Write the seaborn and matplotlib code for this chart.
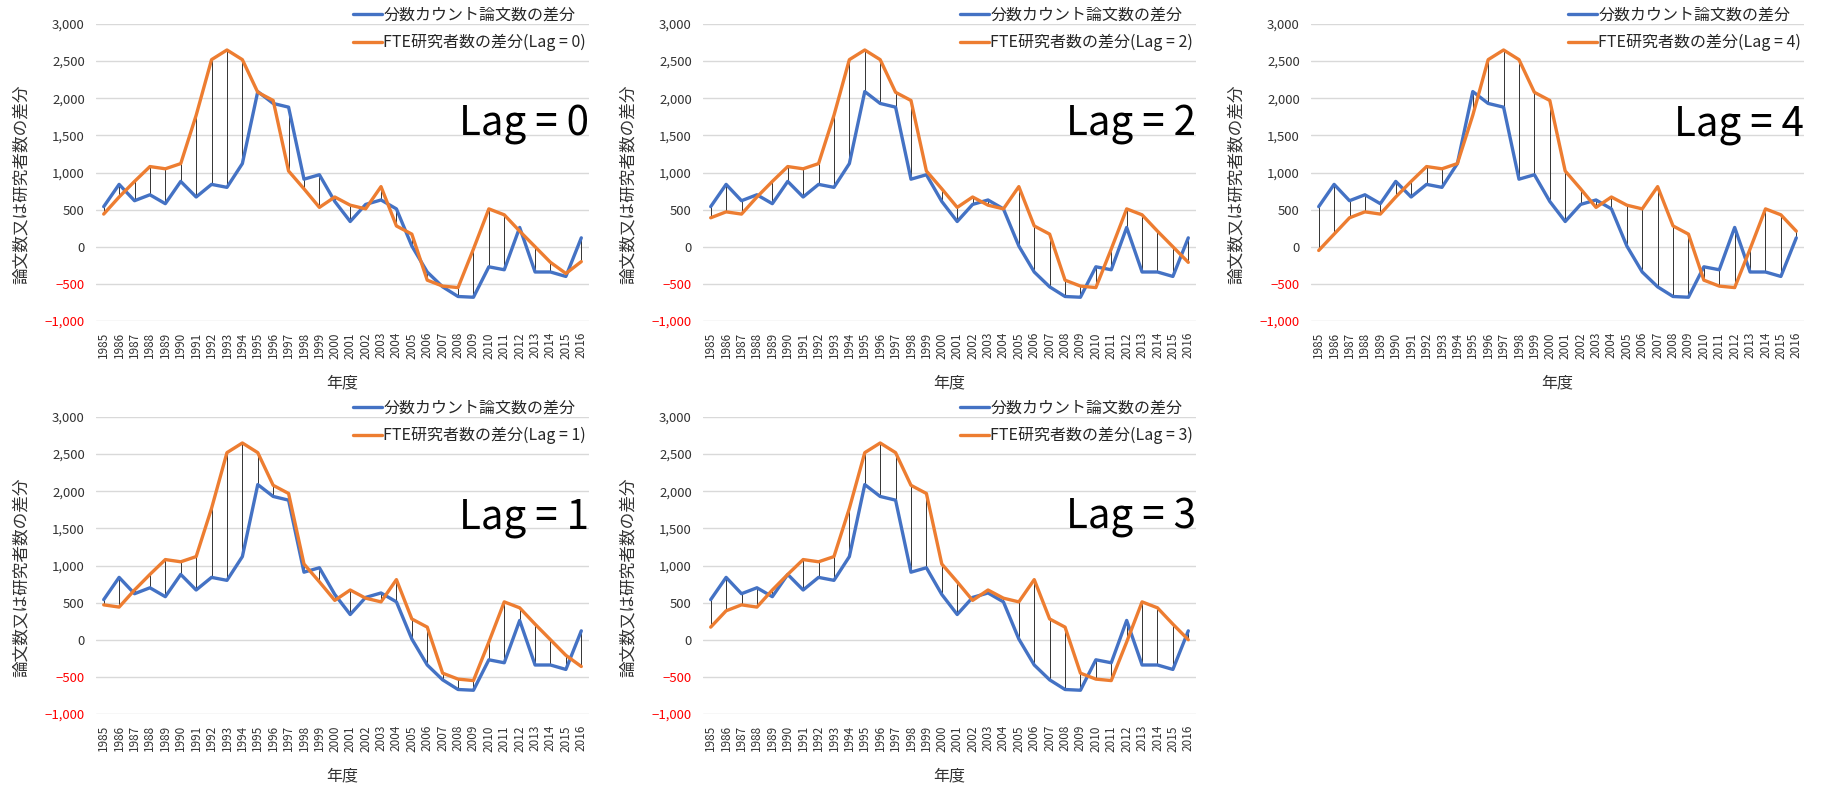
# -*- coding: utf-8 -*-
"""論文数の差分とFTE研究者数の差分（ラグ別）の比較グラフ."""

import matplotlib

matplotlib.use("Agg")
import matplotlib.pyplot as plt
import pandas as pd
import seaborn as sns

# 年度 (1985-2016)
years = list(range(1985, 2017))

# 分数カウント論文数の差分 (1985-2016)
paper_diff = [
    540, 840, 620, 700, 580, 880, 670, 840, 800, 1120,
    2090, 1930, 1880, 910, 970, 610, 340, 570, 630, 510,
    10, -340, -540, -670, -680, -270, -310, 260, -340, -340,
    -400, 120,
]

# FTE研究者数の差分 (1981-2016)
fte_years = list(range(1981, 2017))
fte_diff = [
    -50, 170, 390, 470,
    440, 670, 880, 1080, 1050, 1120, 1770, 2520, 2650, 2520,
    2080, 1970, 1020, 780, 530, 670, 560, 510, 810, 280,
    170, -450, -530, -550, -30, 510, 430, 210, 0, -210,
    -360, -200,
]

# パネルの並び (上段: 0, 2, 4 / 下段: 1, 3)
panel_lags = [[0, 2, 4], [1, 3, None]]

yticks = [-1000, -500, 0, 500, 1000, 1500, 2000, 2500, 3000]

BLUE = "#4472C4"
ORANGE = "#ED7D31"

sns.set_theme(style="white")
plt.rcParams["font.family"] = ["Noto Sans CJK JP", "DejaVu Sans"]
plt.rcParams["axes.unicode_minus"] = True

W, H = 1821, 786
fig = plt.figure(figsize=(W / 100, H / 100), dpi=100)

col_left = [96, 703, 1311]
row_top = [24, 417]
ax_w, ax_h = 493, 297


def fmt_tick(v):
    s = f"{abs(v):,}"
    return ("\u2212" + s) if v < 0 else s


def draw_panel(ax, lag):
    start = 1985 - lag - fte_years[0]
    lagged = fte_diff[start:start + len(years)]
    df = pd.DataFrame({"年度": years, "論文": paper_diff, "FTE": lagged})

    # ハイ・ロー線
    lo = df[["論文", "FTE"]].min(axis=1)
    hi = df[["論文", "FTE"]].max(axis=1)
    ax.vlines(df["年度"], lo, hi, colors="#333333", linewidth=0.7, zorder=1)

    sns.lineplot(data=df, x="年度", y="論文", ax=ax, color=BLUE,
                 linewidth=2.4, label="分数カウント論文数の差分", zorder=2)
    sns.lineplot(data=df, x="年度", y="FTE", ax=ax, color=ORANGE,
                 linewidth=2.4, label=f"FTE研究者数の差分(Lag = {lag})", zorder=3)

    ax.set_xlim(years[0] - 0.5, years[-1] + 0.5)
    ax.set_ylim(-1000, 3000)
    ax.set_xticks(years)
    ax.set_xticklabels([str(y) for y in years], rotation=90, fontsize=8.5)
    ax.set_yticks(yticks)
    ax.set_yticklabels([fmt_tick(v) for v in yticks], fontsize=9.5)
    for lbl, v in zip(ax.get_yticklabels(), yticks):
        lbl.set_color("#FF0000" if v < 0 else "#333333")
    for lbl in ax.get_xticklabels():
        lbl.set_color("#333333")
    ax.tick_params(axis="both", length=0, pad=8)
    ax.grid(axis="y", color="#D9D9D9", linewidth=1)
    ax.grid(axis="x", visible=False)
    for sp in ax.spines.values():
        sp.set_visible(False)

    ax.set_xlabel("年度", fontsize=11.5, color="#333333")
    ax.xaxis.set_label_coords(0.5, -0.18)
    ax.set_ylabel("論文数又は研究者数の差分", fontsize=12, color="#333333")
    ax.yaxis.set_label_coords(-0.135, 0.46)

    ax.legend(loc="upper left", bbox_to_anchor=(0.521, 1.058), frameon=False,
              fontsize=11.5, handlelength=1.8, handletextpad=0.1,
              labelspacing=0.65, borderpad=0, borderaxespad=0)

    ax.text(1.0, 0.626, f"Lag = {lag}", transform=ax.transAxes,
            ha="right", va="baseline", fontsize=29, color="black")


for r, row in enumerate(panel_lags):
    for c, lag in enumerate(row):
        if lag is None:
            continue
        ax = fig.add_axes([col_left[c] / W, 1 - (row_top[r] + ax_h) / H,
                           ax_w / W, ax_h / H])
        draw_panel(ax, lag)

fig.savefig("out.png", dpi=100)
